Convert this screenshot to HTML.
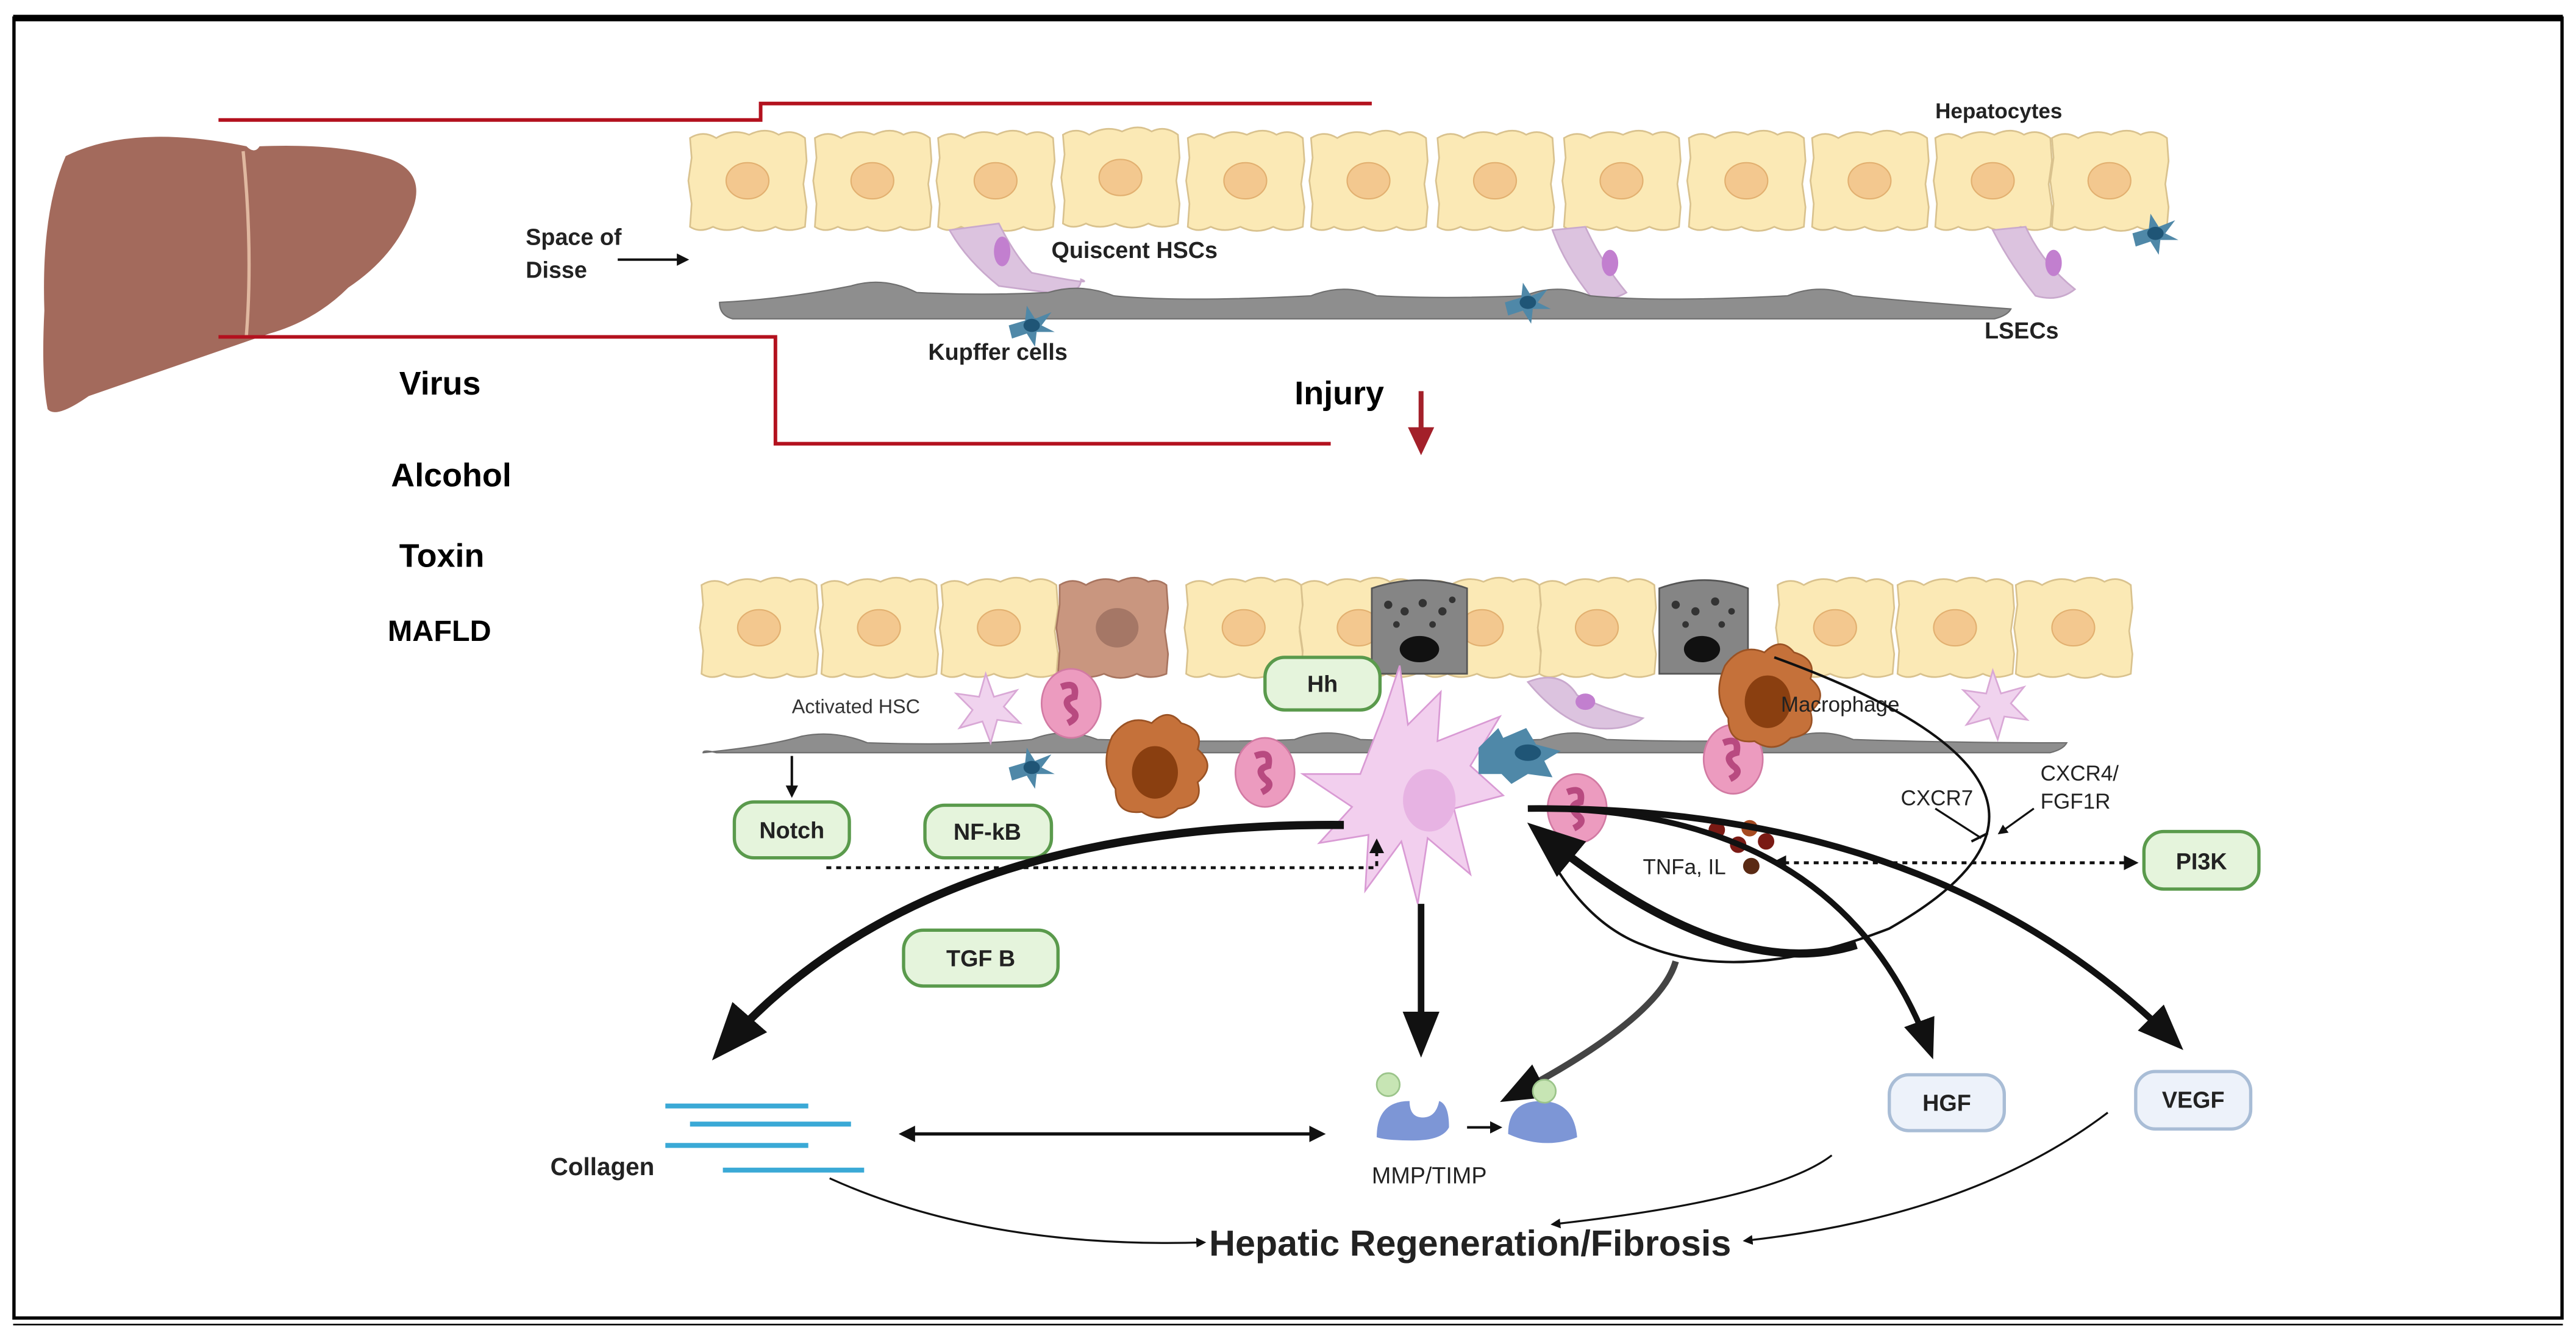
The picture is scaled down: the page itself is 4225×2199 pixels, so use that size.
<!DOCTYPE html>
<html><head><meta charset="utf-8"><style>
html,body{margin:0;padding:0;background:#fff}
svg{display:block}
text{font-family:"Liberation Sans",Arial,sans-serif}
</style></head><body>
<svg width="4225" height="2199" viewBox="0 0 1568 816" preserveAspectRatio="none" xmlns="http://www.w3.org/2000/svg">
<defs>
<marker id="ah" viewBox="0 0 10 10" refX="8" refY="5" markerWidth="5" markerHeight="5" orient="auto-start-reverse"><path d="M0,0L10,5L0,10z" fill="#111"/></marker>
<marker id="ahs" viewBox="0 0 10 10" refX="8" refY="5" markerWidth="7" markerHeight="7" orient="auto-start-reverse"><path d="M0,1L10,5L0,9z" fill="#111"/></marker>
<g id="hep"><path d="M2,4 q8,-5 16,0 q10,-6 20,-2 q10,-5 18,0 q8,-4 16,2 l1,14 l-2,14 l2,14 l-1,12 q-10,4 -18,0 q-10,5 -20,0 q-10,4 -18,0 q-8,4 -14,0 l1,-14 l-2,-14 l2,-14z" fill="#fbe9b5" stroke="#d9c28e" stroke-width="1"/><ellipse cx="37" cy="30" rx="13" ry="11" fill="#f3c88f" stroke="#e2b070" stroke-width="0.8"/></g>
<g id="kup"><path d="M-14,0 L-4,-3 L-3,-12 L2,-4 L12,-8 L6,0 L14,4 L3,4 L2,13 L-3,5 L-12,8z" fill="#4f88a8"/><ellipse cx="0" cy="0" rx="5" ry="4" fill="#1f5576"/></g>
<g id="neu"><ellipse cx="0" cy="0" rx="18" ry="21" fill="#ec9bbf" stroke="#d27aa3"/><path d="M-6,-10 q10,-4 8,6 q-8,2 -2,8 q6,4 -2,8" stroke="#b84a80" stroke-width="4" fill="none"/></g>
<g id="mac"><path d="M-28,-20 q10,-14 24,-8 q10,-10 18,0 q14,4 10,16 q12,10 0,20 q4,14 -12,16 q-10,10 -22,2 q-16,2 -16,-14 q-10,-14 -2,-32z" fill="#c5713a" stroke="#9a5224"/><ellipse cx="-2" cy="2" rx="14" ry="16" fill="#8a3f10"/></g>
</defs>
<rect x="0" y="0" width="1568" height="816" fill="#fff"/>
<rect x="8.5" y="11" width="1551" height="791" fill="none" stroke="#000" stroke-width="2"/>
<line x1="8" y1="11" x2="1560" y2="11" stroke="#000" stroke-width="4"/>
<line x1="8" y1="806" x2="1560" y2="806" stroke="#000" stroke-width="1"/>

<!-- liver -->
<path d="M40,95 q40,-20 110,-6 q5,5 8,0 q50,-2 80,8 q20,8 14,28 q-10,30 -40,50 q-20,20 -48,28 l-110,38 q-20,14 -25,8 q-4,-20 -2,-60 q-2,-60 13,-94z" fill="#a36a5c"/>
<path d="M148,92 q6,60 2,112" stroke="#e0b8a0" stroke-width="2" fill="none"/>

<!-- red lines -->
<path d="M133,73 H463 V63 H835" stroke="#b3111e" stroke-width="2.2" fill="none"/>
<path d="M133,205 H472 V270 H810" stroke="#b3111e" stroke-width="2.2" fill="none"/>

<!-- top hepatocytes -->
<g>
<use href="#hep" x="418" y="80"/><use href="#hep" x="494" y="80"/><use href="#hep" x="569" y="80"/><use href="#hep" x="645" y="78"/><use href="#hep" x="721" y="80"/><use href="#hep" x="796" y="80"/><use href="#hep" x="873" y="80"/><use href="#hep" x="950" y="80"/><use href="#hep" x="1026" y="80"/><use href="#hep" x="1101" y="80"/><use href="#hep" x="1176" y="80"/><use href="#hep" x="1247" y="80"/>
</g>
<!-- quiescent HSCs -->
<path d="M578,140 l30,-4 q10,20 20,30 q40,8 30,4 q0,10 -20,8 l-30,-4 q-20,-16 -30,-34z" fill="#dcc3df" stroke="#c9a9cd"/><ellipse cx="610" cy="153" rx="5" ry="9" fill="#c27fcf"/>
<path d="M945,140 l20,-2 q10,22 25,40 q-10,6 -22,2 q-16,-20 -23,-40z" fill="#dcc3df" stroke="#c9a9cd"/><ellipse cx="980" cy="160" rx="5" ry="8" fill="#c27fcf"/>
<path d="M1213,140 l20,-2 q10,22 30,38 q-10,8 -24,4 q-16,-20 -26,-40z" fill="#dcc3df" stroke="#c9a9cd"/><ellipse cx="1250" cy="160" rx="5" ry="8" fill="#c27fcf"/>
<use href="#kup" x="1312" y="142"/>
<!-- LSECs top -->
<path d="M438,184 q40,-2 80,-10 q20,-6 40,4 q40,2 80,0 q20,-6 40,2 q40,4 120,0 q20,-8 40,0 q40,2 90,0 q20,-8 40,0 q40,4 120,0 q20,-8 40,0 q40,4 96,8 q-2,4 -10,6 H446 q-8,-2 -8,-10z" fill="#8e8e8e" stroke="#6f6f6f" stroke-width="0.8"/>
<use href="#kup" x="628" y="198"/><use href="#kup" x="930" y="184"/>
<text x="320" y="149" font-size="14" font-weight="bold" fill="#222">Space of</text>
<text x="320" y="169" font-size="14" font-weight="bold" fill="#222">Disse</text>
<line x1="376" y1="158" x2="418" y2="158" stroke="#111" stroke-width="1.5" marker-end="url(#ah)"/>
<text x="640" y="157" font-size="14" font-weight="bold" fill="#222">Quiscent HSCs</text>
<text x="1178" y="72" font-size="13" font-weight="bold" fill="#222">Hepatocytes</text>
<text x="565" y="219" font-size="14" font-weight="bold" fill="#222">Kupffer cells</text>
<text x="1208" y="206" font-size="14" font-weight="bold" fill="#222">LSECs</text>

<text x="243" y="240" font-size="20" font-weight="bold">Virus</text>
<text x="238" y="296" font-size="20" font-weight="bold">Alcohol</text>
<text x="243" y="345" font-size="20" font-weight="bold">Toxin</text>
<text x="236" y="390" font-size="18" font-weight="bold">MAFLD</text>
<text x="788" y="246" font-size="20" font-weight="bold">Injury</text>
<line x1="865" y1="238" x2="865" y2="262" stroke="#a3202a" stroke-width="3"/>
<path d="M857,260 L873,260 L865,277z" fill="#a3202a"/>

<!-- bottom hepatocytes -->
<g>
<use href="#hep" x="425" y="352"/><use href="#hep" x="498" y="352"/><use href="#hep" x="571" y="352"/><use href="#hep" x="720" y="352"/><use href="#hep" x="790" y="352"/><use href="#hep" x="865" y="352"/><use href="#hep" x="935" y="352"/><use href="#hep" x="1080" y="352"/><use href="#hep" x="1153" y="352"/><use href="#hep" x="1225" y="352"/>
<path d="M645,356 q8,-5 16,0 q10,-6 20,-2 q10,-5 18,0 q6,-2 11,2 l1,14 l-2,14 l2,14 l-1,12 q-10,4 -18,0 q-10,5 -20,0 q-10,4 -18,0 q-6,3 -10,0 l1,-14 l-2,-14 l2,-14z" fill="#c9967f" stroke="#a87560"/><ellipse cx="680" cy="382" rx="13" ry="12" fill="#a57766"/>
<path d="M835,358 q30,-10 58,0 v52 h-58z" fill="#858585" stroke="#555"/><ellipse cx="864" cy="395" rx="12" ry="8" fill="#111"/>
<g fill="#333"><circle cx="845" cy="368" r="2.5"/><circle cx="855" cy="372" r="2.5"/><circle cx="866" cy="367" r="2.5"/><circle cx="878" cy="372" r="2.5"/><circle cx="884" cy="365" r="2"/><circle cx="850" cy="380" r="2"/><circle cx="872" cy="380" r="2"/></g>
<path d="M1010,358 q28,-10 54,0 v52 h-54z" fill="#858585" stroke="#555"/><ellipse cx="1036" cy="395" rx="11" ry="8" fill="#111"/>
<g fill="#333"><circle cx="1020" cy="368" r="2.5"/><circle cx="1032" cy="372" r="2.5"/><circle cx="1044" cy="366" r="2.5"/><circle cx="1054" cy="372" r="2"/><circle cx="1026" cy="380" r="2"/><circle cx="1048" cy="380" r="2"/></g>
</g>
<!-- LSECs bottom -->
<path d="M428,458 q40,-4 60,-10 q20,-4 40,4 q60,2 100,-2 q20,-8 40,0 q80,2 120,0 q20,-8 40,0 q60,2 110,0 q20,-8 40,0 q60,2 110,0 q20,-8 40,0 q60,2 130,2 q-2,4 -10,6 H436 q-8,-2 -8,0z" fill="#8e8e8e" stroke="#6f6f6f" stroke-width="0.8"/>
<!-- activated HSC small -->
<path d="M600,410 l5,14 l14,-4 l-8,10 l10,10 l-14,-2 l-4,14 l-5,-13 l-14,4 l8,-11 l-10,-10 l14,2z" fill="#f0d3ee" stroke="#d9a8d6"/>
<path d="M1213,408 l5,14 l14,-4 l-8,10 l10,10 l-14,-2 l-4,14 l-5,-13 l-14,4 l8,-11 l-10,-10 l14,2z" fill="#f0d3ee" stroke="#d9a8d6"/>
<path d="M930,415 q20,-8 30,8 q20,10 40,14 q-10,8 -30,6 q-20,-4 -40,-28z" fill="#dcc3df" stroke="#c9a9cd"/><ellipse cx="965" cy="427" rx="6" ry="5" fill="#c27fcf"/>
<use href="#neu" x="652" y="428"/><use href="#neu" x="770" y="470"/><use href="#neu" x="960" y="492"/><use href="#neu" x="1055" y="462"/>
<use href="#mac" x="705" y="468"/><use href="#mac" x="1078" y="425"/>
<use href="#kup" x="628" y="467"/>
<!-- big activated HSC -->
<path d="M842,435 l10,-30 l5,36 l20,-20 l-2,30 l38,-15 l-18,30 l20,18 l-30,8 l10,40 l-26,-22 l-6,40 l-10,-38 l-22,30 l2,-34 l-30,5 l20,-22 l-30,-20 l35,0z" fill="#f2cfee" stroke="#d99ad4"/>
<ellipse cx="870" cy="487" rx="16" ry="19" fill="#e7b3e3"/>
<path d="M900,455 l12,-12 l3,6 l14,-6 l6,10 l15,4 l-10,6 l5,10 l-15,-2 l-10,6 l-6,-6 l-14,0z" fill="#4f88a8"/><ellipse cx="930" cy="458" rx="8" ry="5" fill="#1f5576"/>

<text x="482" y="434" font-size="12" fill="#333">Activated HSC</text>
<text x="1084" y="433" font-size="13" fill="#222">Macrophage</text>

<!-- label boxes -->
<g stroke="#5a9a4c" stroke-width="2" fill="#e5f4dc">
<rect x="770" y="400" width="70" height="32" rx="12"/>
<rect x="447" y="488" width="70" height="34" rx="12"/>
<rect x="563" y="490" width="77" height="32" rx="12"/>
<rect x="550" y="566" width="94" height="34" rx="12"/>
<rect x="1305" y="506" width="70" height="35" rx="12"/>
</g>
<g stroke="#a9bdd6" stroke-width="2" fill="#edf2fa">
<rect x="1150" y="654" width="70" height="34" rx="12"/>
<rect x="1300" y="652" width="70" height="35" rx="12"/>
</g>
<g font-size="14" font-weight="bold" fill="#222" text-anchor="middle">
<text x="805" y="421">Hh</text><text x="482" y="510">Notch</text><text x="601" y="511">NF-kB</text><text x="597" y="588">TGF B</text><text x="1340" y="529">PI3K</text><text x="1185" y="676">HGF</text><text x="1335" y="674">VEGF</text>
</g>

<!-- notch arrow -->
<line x1="482" y1="460" x2="482" y2="484" stroke="#111" stroke-width="1.5" marker-end="url(#ah)"/>
<path d="M503,528 H838 V512" stroke="#111" stroke-width="1.8" stroke-dasharray="3,3" fill="none" marker-end="url(#ah)"/>
<!-- TNF -->
<g><circle cx="1045" cy="505" r="5" fill="#7a1a14"/><circle cx="1065" cy="504" r="5" fill="#a64a20"/><circle cx="1058" cy="514" r="5" fill="#7a1a14"/><circle cx="1075" cy="512" r="5" fill="#7a1a14"/><circle cx="1066" cy="527" r="5" fill="#5a2a14"/></g>
<text x="1000" y="532" font-size="13" fill="#222">TNFa, IL</text>
<line x1="1080" y1="525" x2="1300" y2="525" stroke="#111" stroke-width="1.8" stroke-dasharray="3,3" marker-start="url(#ah)" marker-end="url(#ah)"/>
<text x="1157" y="490" font-size="13" fill="#222">CXCR7</text>
<text x="1242" y="475" font-size="13" fill="#222">CXCR4/</text>
<text x="1242" y="492" font-size="13" fill="#222">FGF1R</text>
<path d="M1178,492 L1206,510" stroke="#111" stroke-width="1.2" fill="none"/><line x1="1200" y1="512" x2="1210" y2="507" stroke="#111" stroke-width="1.5"/>
<line x1="1238" y1="492" x2="1217" y2="507" stroke="#111" stroke-width="1.2" marker-end="url(#ah)"/>

<!-- big arrows -->
<path d="M818,502 Q560,500 438,640" stroke="#111" stroke-width="5" fill="none" marker-end="url(#ahs)"/>
<line x1="865" y1="550" x2="865" y2="638" stroke="#111" stroke-width="4" marker-end="url(#ahs)"/>
<path d="M1020,585 Q1010,620 918,668" stroke="#444" stroke-width="4" fill="none" marker-end="url(#ahs)"/>
<path d="M930,492 Q1120,490 1175,640" stroke="#111" stroke-width="3.5" fill="none" marker-end="url(#ahs)"/>
<path d="M930,492 Q1180,490 1325,635" stroke="#111" stroke-width="4" fill="none" marker-end="url(#ahs)"/>
<path d="M1080,400 Q1300,480 1150,565 Q1060,600 1000,575 Q960,560 935,505" stroke="#111" stroke-width="1.5" fill="none"/>
<path d="M1130,575 Q1050,600 935,505" stroke="#111" stroke-width="5" fill="none" marker-end="url(#ahs)"/>

<!-- collagen -->
<g stroke="#3aa9d6" stroke-width="3">
<line x1="405" y1="673" x2="492" y2="673"/><line x1="420" y1="684" x2="518" y2="684"/><line x1="405" y1="697" x2="492" y2="697"/><line x1="440" y1="712" x2="526" y2="712"/>
</g>
<text x="335" y="715" font-size="15" font-weight="bold" fill="#222">Collagen</text>
<line x1="549" y1="690" x2="805" y2="690" stroke="#111" stroke-width="2" marker-start="url(#ah)" marker-end="url(#ah)"/>
<!-- MMP -->
<path d="M838,692 q0,-22 20,-22 q0,10 8,10 q8,0 10,-10 q6,2 6,16 q-4,8 -22,8 q-16,0 -22,-2z" fill="#7d96d6"/>
<circle cx="845" cy="660" r="7" fill="#c7e5b4" stroke="#9bc48a"/>
<path d="M918,690 q0,-20 20,-20 q20,0 22,22 q-20,8 -42,-2z" fill="#7d96d6"/>
<circle cx="940" cy="664" r="7" fill="#c7e5b4" stroke="#9bc48a"/>
<line x1="893" y1="686" x2="913" y2="686" stroke="#111" stroke-width="1.5" marker-end="url(#ah)"/>
<text x="835" y="720" font-size="14" fill="#222">MMP/TIMP</text>

<text x="736" y="764" font-size="22" font-weight="bold" fill="#222">Hepatic Regeneration/Fibrosis</text>
<path d="M505,717 Q600,760 733,756" stroke="#111" stroke-width="1.2" fill="none" marker-end="url(#ah)"/>
<path d="M1115,703 Q1080,730 945,745" stroke="#111" stroke-width="1.2" fill="none" marker-end="url(#ah)"/>
<path d="M1283,677 Q1200,740 1062,755" stroke="#111" stroke-width="1.2" fill="none" marker-end="url(#ah)"/>
</svg>
</body></html>
